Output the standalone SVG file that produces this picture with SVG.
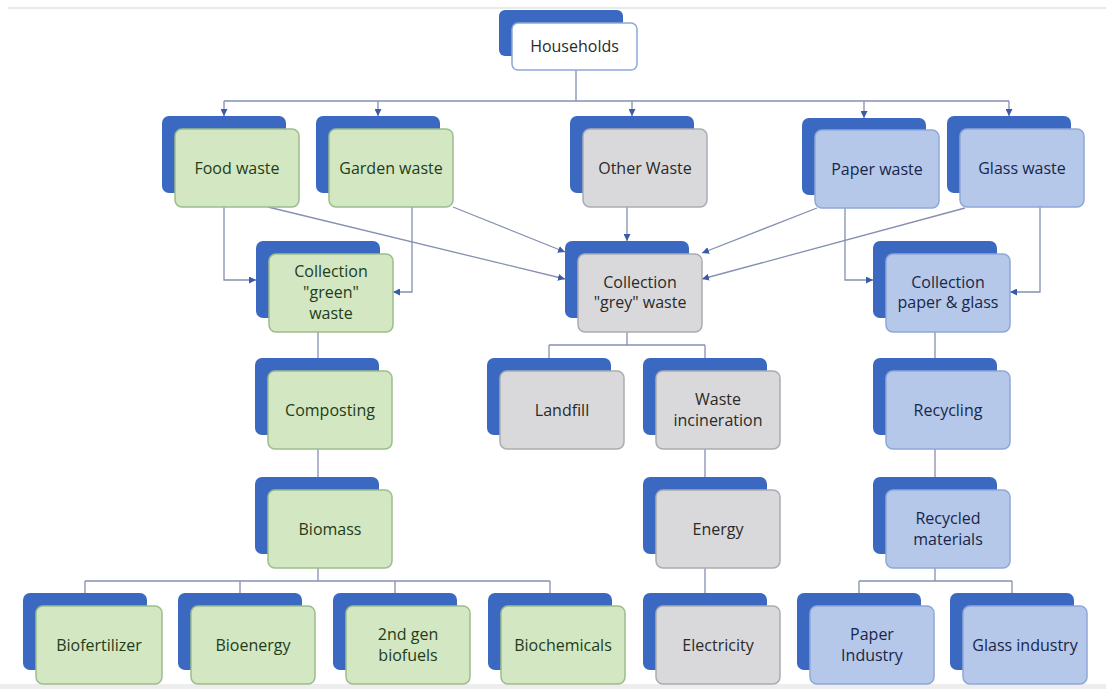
<svg xmlns="http://www.w3.org/2000/svg" width="1106" height="689" viewBox="0 0 1106 689">
<defs>
<style>
.bk{fill:#3b69c2;}
.fg{fill:#d4e7c3;stroke:#9cbd8c;stroke-width:1.5;}
.fy{fill:#d9d9db;stroke:#a9acb4;stroke-width:1.5;}
.fb{fill:#b5c8e9;stroke:#8ea8d6;stroke-width:1.5;}
.fw{fill:#ffffff;stroke:#8ea8d6;stroke-width:1.5;}
text{font-family:"Open Sans","Liberation Sans",sans-serif;font-size:16px;text-anchor:middle;}
.tg{fill:#223d18;}
.ty{fill:#2a2a2a;}
.tb{fill:#18264a;}
.con path{fill:none;stroke:#8590b0;stroke-width:1.3;}
</style>
<marker id="ar" viewBox="0 0 8 8" refX="8" refY="4" markerWidth="7" markerHeight="7" markerUnits="userSpaceOnUse" orient="auto">
<path d="M0,0 L8,4 L0,8 z" fill="#3a5aa6"/>
</marker>
</defs>
<rect x="0" y="0" width="1106" height="689" fill="#ffffff"/>
<line x1="8" y1="8" x2="1106" y2="8" stroke="#e2e2e2" stroke-width="1.5"/>
<rect x="0" y="684" width="1106" height="5" fill="#ededed"/>

<g class="con">
<path d="M576 69 V101"/>
<path d="M224 101 H1009"/>
<path d="M224 101 V116" marker-end="url(#ar)"/>
<path d="M378 101 V116" marker-end="url(#ar)"/>
<path d="M632 101 V116" marker-end="url(#ar)"/>
<path d="M864 101 V118" marker-end="url(#ar)"/>
<path d="M1009 101 V116" marker-end="url(#ar)"/>
<path d="M224 207 V280 H256" marker-end="url(#ar)"/>
<path d="M412 207 V292 H393" marker-end="url(#ar)"/>
<path d="M627 207 V241" marker-end="url(#ar)"/>
<path d="M268 207 L565 279" marker-end="url(#ar)"/>
<path d="M453 207 L565 252" marker-end="url(#ar)"/>
<path d="M817 208 L702 253" marker-end="url(#ar)"/>
<path d="M965 208 L702 279" marker-end="url(#ar)"/>
<path d="M845 208 V280 H873" marker-end="url(#ar)"/>
<path d="M1040 207 V292 H1010" marker-end="url(#ar)"/>
<path d="M318 332 V358"/>
<path d="M318 449 V477"/>
<path d="M318 568 V581"/>
<path d="M85 581 H550"/>
<path d="M85 581 V593"/>
<path d="M240 581 V593"/>
<path d="M395 581 V593"/>
<path d="M550 581 V593"/>
<path d="M627 332 V345"/>
<path d="M549 345 H705"/>
<path d="M549 345 V358"/>
<path d="M705 345 V358"/>
<path d="M705 449 V477"/>
<path d="M705 568 V593"/>
<path d="M935 332 V358"/>
<path d="M935 449 V477"/>
<path d="M935 568 V581"/>
<path d="M859 581 H1012"/>
<path d="M859 581 V593"/>
<path d="M1012 581 V593"/>
</g>

<g id="households"><rect class="bk" x="499" y="10" width="124" height="46" rx="6"/><rect class="fw" x="512" y="23" width="125" height="47" rx="6"/><text class="ty" x="574.5" y="52">Households</text></g>

<g id="food"><rect class="bk" x="162" y="116" width="124" height="77" rx="7"/><rect class="fg" x="175" y="129" width="124" height="78" rx="7"/><text class="tg" x="237" y="173.5">Food waste</text></g>
<g id="garden"><rect class="bk" x="316" y="116" width="124" height="77" rx="7"/><rect class="fg" x="329" y="129" width="124" height="78" rx="7"/><text class="tg" x="391" y="173.5">Garden waste</text></g>
<g id="other"><rect class="bk" x="570" y="116" width="124" height="77" rx="7"/><rect class="fy" x="583" y="129" width="124" height="78" rx="7"/><text class="ty" x="645" y="173.5">Other Waste</text></g>
<g id="paper"><rect class="bk" x="802" y="118" width="124" height="77" rx="7"/><rect class="fb" x="815" y="130" width="124" height="78" rx="7"/><text class="tb" x="877" y="174.5">Paper waste</text></g>
<g id="glass"><rect class="bk" x="947" y="116" width="124" height="77" rx="7"/><rect class="fb" x="960" y="129" width="124" height="78" rx="7"/><text class="tb" x="1022" y="173.5">Glass waste</text></g>

<g id="coll_green"><rect class="bk" x="256" y="241" width="124" height="77" rx="7"/><rect class="fg" x="269" y="254" width="124" height="78" rx="7"/><text class="tg" x="331" y="277">Collection</text><text class="tg" x="331" y="298">"green"</text><text class="tg" x="331" y="319">waste</text></g>
<g id="coll_grey"><rect class="bk" x="565" y="241" width="124" height="77" rx="7"/><rect class="fy" x="578" y="254" width="124" height="78" rx="7"/><text class="ty" x="640" y="288">Collection</text><text class="ty" x="640" y="308">"grey" waste</text></g>
<g id="coll_pg"><rect class="bk" x="873" y="241" width="124" height="77" rx="7"/><rect class="fb" x="886" y="254" width="124" height="78" rx="7"/><text class="tb" x="948" y="288">Collection</text><text class="tb" x="948" y="308">paper &amp; glass</text></g>

<g id="composting"><rect class="bk" x="255" y="358" width="124" height="77" rx="7"/><rect class="fg" x="268" y="371" width="124" height="78" rx="7"/><text class="tg" x="330" y="415.5">Composting</text></g>
<g id="landfill"><rect class="bk" x="487" y="358" width="124" height="77" rx="7"/><rect class="fy" x="500" y="371" width="124" height="78" rx="7"/><text class="ty" x="562" y="415.5">Landfill</text></g>
<g id="incineration"><rect class="bk" x="643" y="358" width="124" height="77" rx="7"/><rect class="fy" x="656" y="371" width="124" height="78" rx="7"/><text class="ty" x="718" y="405">Waste</text><text class="ty" x="718" y="426">incineration</text></g>
<g id="recycling"><rect class="bk" x="873" y="358" width="124" height="77" rx="7"/><rect class="fb" x="886" y="371" width="124" height="78" rx="7"/><text class="tb" x="948" y="415.5">Recycling</text></g>

<g id="biomass"><rect class="bk" x="255" y="477" width="124" height="77" rx="7"/><rect class="fg" x="268" y="490" width="124" height="78" rx="7"/><text class="tg" x="330" y="534.5">Biomass</text></g>
<g id="energy"><rect class="bk" x="643" y="477" width="124" height="77" rx="7"/><rect class="fy" x="656" y="490" width="124" height="78" rx="7"/><text class="ty" x="718" y="534.5">Energy</text></g>
<g id="recycled"><rect class="bk" x="873" y="477" width="124" height="77" rx="7"/><rect class="fb" x="886" y="490" width="124" height="78" rx="7"/><text class="tb" x="948" y="524">Recycled</text><text class="tb" x="948" y="545">materials</text></g>

<g id="biofertilizer"><rect class="bk" x="23" y="593" width="124" height="77" rx="7"/><rect class="fg" x="36" y="606" width="126" height="78" rx="7"/><text class="tg" x="99" y="650.5">Biofertilizer</text></g>
<g id="bioenergy"><rect class="bk" x="178" y="593" width="124" height="77" rx="7"/><rect class="fg" x="191" y="606" width="124" height="78" rx="7"/><text class="tg" x="253" y="650.5">Bioenergy</text></g>
<g id="biofuels"><rect class="bk" x="333" y="593" width="124" height="77" rx="7"/><rect class="fg" x="346" y="606" width="124" height="78" rx="7"/><text class="tg" x="408" y="640">2nd gen</text><text class="tg" x="408" y="661">biofuels</text></g>
<g id="biochemicals"><rect class="bk" x="488" y="593" width="124" height="77" rx="7"/><rect class="fg" x="501" y="606" width="124" height="78" rx="7"/><text class="tg" x="563" y="650.5">Biochemicals</text></g>
<g id="electricity"><rect class="bk" x="643" y="593" width="124" height="77" rx="7"/><rect class="fy" x="656" y="606" width="124" height="78" rx="7"/><text class="ty" x="718" y="650.5">Electricity</text></g>
<g id="paper_industry"><rect class="bk" x="797" y="593" width="124" height="77" rx="7"/><rect class="fb" x="810" y="606" width="124" height="78" rx="7"/><text class="tb" x="872" y="640">Paper</text><text class="tb" x="872" y="661">Industry</text></g>
<g id="glass_industry"><rect class="bk" x="950" y="593" width="124" height="77" rx="7"/><rect class="fb" x="963" y="606" width="124" height="78" rx="7"/><text class="tb" x="1025" y="650.5">Glass industry</text></g>
</svg>
